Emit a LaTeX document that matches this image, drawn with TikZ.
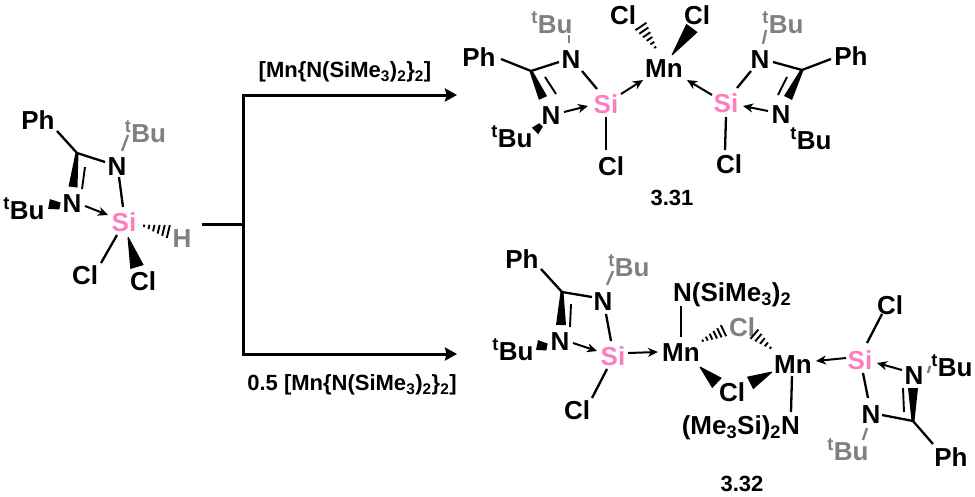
\documentclass[tikz,border=0pt]{standalone}
\usepackage{fontspec}
\setmainfont{Liberation Sans}
\usetikzlibrary{arrows.meta,calc}
\definecolor{sipink}{HTML}{FF7DBE}
\definecolor{tbugray}{HTML}{808080}
\tikzset{
  atom/.style={inner sep=0pt,text height=18pt,text depth=0pt,font=\fontsize{26}{26}\selectfont\bfseries},
  siatom/.style={atom,text=sipink},
  grayatom/.style={atom,text=tbugray},
  cond/.style={inner sep=0pt,text height=15pt,text depth=0pt,font=\fontsize{22}{22}\selectfont\bfseries},
  cmpd/.style={inner sep=0pt,text height=16pt,text depth=0pt,font=\fontsize{22}{22}\selectfont\bfseries},
  bd/.style={line width=2.3pt},
  thin bd/.style={line width=1.9pt},
  gbd/.style={line width=2.3pt,draw=tbugray},
  dat/.style={line width=2pt,-{Stealth[length=10pt,width=9pt,inset=3pt]}},
  rxn/.style={line width=3pt,line join=miter},
  rxnarrow/.style={rxn,-{Stealth[length=12pt,width=13pt,inset=1.5pt]}},
  hashln/.style={line width=1.9pt},
}
\newcommand\wedgebond[4]{\fill ($(#1)!#4pt!90:(#2)$) -- ($(#2)!#3pt!-90:(#1)$) -- ($(#2)!#3pt!90:(#1)$) -- ($(#1)!#4pt!-90:(#2)$) -- cycle;}
\newcommand\hashbond[4]{\foreach \i in {1,...,#4}{
  \pgfmathsetmacro\tt{(\i-0.35)/#4}
  \pgfmathsetmacro\ww{#3*\tt+0.5}
  \coordinate (hp) at ($(#1)!\tt!(#2)$);
  \draw[hashln] ($(hp)!\ww pt!90:(#2)$) -- ($(hp)!\ww pt!-90:(#2)$);
}}
\newcommand\tBu{\textsuperscript{t}Bu}
\begin{document}
\begin{tikzpicture}[x=1pt,y=-1pt]
\useasboundingbox (0,0) rectangle (975,496);
% --- starting material
\node[atom] (Ph1) at (38,120) {Ph};
\coordinate (C1) at (77,153);
\node[atom] (N1a) at (117,166) {N};
\node[atom] (N1b) at (72,203) {N};
\node[siatom] (Si1) at (124,222) {Si};
\node[grayatom] (H1) at (182,238) {H};
\node[atom] (Cl1a) at (85,275) {Cl};
\node[atom] (Cl1b) at (143,281) {Cl};
\node[grayatom] (Bu1a) at (145.5,133) {\tBu};
\node[atom] (Bu1b) at (24,210) {\tBu};
\draw[bd] ([shift={(19,11)}]Ph1.center) -- (C1);
\draw[bd] (C1) -- ([shift={(-12,-4)}]N1a.center);
\draw[bd] ([shift={(2,11)}]N1a.center) -- ([shift={(-1,-15)}]Si1.center);
\draw[gbd] ([shift={(-17.5,2)}]Bu1a.center) -- ([shift={(5,-15)}]N1a.center);
\draw[dat] ([shift={(13,3)}]N1b.center) -- ([shift={(-16,-7)}]Si1.center);
\draw[bd] ([shift={(-7,13)}]Si1.center) -- ([shift={(16,-12)}]Cl1a.center);
\draw[thin bd] ([shift={(8,14)}]C1) -- ([shift={(10,-14)}]N1b.center);
\wedgebond{77,153}{73,187}{4.5}{1.5}
\wedgebond{60,206}{49,204}{5}{3.5}
\wedgebond{128,237}{137,267}{7}{0.5}
\hashbond{141,225}{170,232}{6.5}{6}
% --- reaction scheme
\coordinate (in) at (202,224);
\coordinate (jn) at (243,224);
\coordinate (tc) at (243,95);
\coordinate (te) at (457,95);
\coordinate (bc) at (243,354);
\coordinate (be) at (457,354);
\draw[rxn] (in) -- (jn);
\draw[rxnarrow] (jn) -- (tc) -- (te);
\draw[rxnarrow] (jn) -- (bc) -- (be);
\node[cond] (L1) at (345,70) {[Mn\{N(SiMe\textsubscript{3})\textsubscript{2}\}\textsubscript{2}]};
\node[cond] (L2) at (352,383) {0.5 [Mn\{N(SiMe\textsubscript{3})\textsubscript{2}\}\textsubscript{2}]};
% --- 3.31
\node[atom] (Ph2) at (479,57) {Ph};
\coordinate (C2) at (531,71);
\node[atom] (N2a) at (571,59) {N};
\node[atom] (N2b) at (551,115) {N};
\node[siatom] (Si2) at (606,104) {Si};
\node[atom] (Cl2a) at (611,166) {Cl};
\node[grayatom] (Bu2a) at (552,24) {\tBu};
\node[atom] (Bu2b) at (512,138) {\tBu};
\node[atom] (Mn2) at (664,68) {Mn};
\node[atom] (Cl2b) at (623,15) {Cl};
\node[atom] (Cl2c) at (697,15) {Cl};
\node[siatom] (Si3) at (726,103) {Si};
\node[atom] (N3a) at (760,59) {N};
\node[atom] (N3b) at (781,114) {N};
\coordinate (C3) at (802,70);
\node[atom] (Ph3) at (851,56) {Ph};
\node[atom] (Cl3) at (729,164) {Cl};
\node[grayatom] (Bu3a) at (783,24) {\tBu};
\node[atom] (Bu3b) at (811,140) {\tBu};
\node[cmpd] (n331) at (672,197) {3.31};
\draw[bd] ([shift={(22,2)}]Ph2.center) -- (C2);
\draw[bd] (C2) -- ([shift={(-12,3)}]N2a.center);
\draw[gbd] ([shift={(17,11)}]Bu2a.center) -- ([shift={(-2,-16)}]N2a.center);
\draw[bd] ([shift={(11,12)}]N2a.center) -- ([shift={(-9,-15)}]Si2.center);
\draw[thin bd] ([shift={(14,6)}]C2) -- ([shift={(5,-21)}]N2b.center);
\draw[dat] ([shift={(13,-3)}]N2b.center) -- ([shift={(-18,2)}]Si2.center);
\draw[bd] ([shift={(0,13)}]Si2.center) -- ([shift={(-5,-16)}]Cl2a.center);
\draw[dat] ([shift={(15,-10)}]Si2.center) -- ([shift={(-21,12)}]Mn2.center);
\draw[dat] ([shift={(-14,-8)}]Si3.center) -- ([shift={(23,12)}]Mn2.center);
\draw[bd] ([shift={(-9,12)}]N3a.center) -- ([shift={(11,-15)}]Si3.center);
\draw[gbd] ([shift={(-17,6)}]Bu3a.center) -- ([shift={(3,-15)}]N3a.center);
\draw[bd] ([shift={(13,3)}]N3a.center) -- (C3);
\draw[bd] (C3) -- ([shift={(-20,3)}]Ph3.center);
\draw[thin bd] ([shift={(-15,7)}]C3) -- ([shift={(-3,-19)}]N3b.center);
\draw[dat] ([shift={(-13,-3)}]N3b.center) -- ([shift={(17,3)}]Si3.center);
\draw[bd] ([shift={(0,14)}]Si3.center) -- ([shift={(-4,-14)}]Cl3.center);
\wedgebond{531,71}{543,98}{4.5}{1.5}
\wedgebond{802,70}{788,98}{4.5}{1.5}
\wedgebond{541,125}{535,131}{4.5}{2.5}
\hashbond{657,50}{640,25}{6.5}{6}
\wedgebond{672,55}{692,28}{7}{0.5}
% --- 3.32
\node[atom] (Ph4) at (522,259) {Ph};
\coordinate (C4) at (562,292);
\node[atom] (N4a) at (603,301) {N};
\node[atom] (N4b) at (560,341) {N};
\node[siatom] (Si4) at (613,356) {Si};
\node[atom] (Cl4) at (577,410) {Cl};
\node[grayatom] (Bu4a) at (629,267) {\tBu};
\node[atom] (Bu4b) at (513,351) {\tBu};
\node[atom] (Mn4) at (681,352) {Mn};
\node[atom,anchor=west] (Nx) at (673,292) {N(SiMe\textsubscript{3})\textsubscript{2}};
\node[grayatom] (Clg) at (742,327) {Cl};
\node[atom] (Clk) at (732,392) {Cl};
\node[atom] (Mn5) at (793,364) {Mn};
\node[siatom] (Si5) at (860,360) {Si};
\node[atom] (Cl5) at (890,305) {Cl};
\node[atom] (N5a) at (914,375) {N};
\node[atom] (N5b) at (871,414) {N};
\coordinate (C5) at (913,421);
\node[atom] (Ph5) at (951,457) {Ph};
\node[atom] (Bu5a) at (952,367) {\tBu};
\node[grayatom] (Bu5b) at (848,451) {\tBu};
\node[atom,anchor=east] (Ny) at (800,425) {(Me\textsubscript{3}Si)\textsubscript{2}N};
\node[cmpd] (n332) at (742,483) {3.32};
\draw[bd] ([shift={(19,10)}]Ph4.center) -- (C4);
\draw[bd] (C4) -- ([shift={(-11,-4)}]N4a.center);
\draw[gbd] ([shift={(-16,4)}]Bu4a.center) -- ([shift={(4,-16)}]N4a.center);
\draw[bd] ([shift={(3,13)}]N4a.center) -- ([shift={(-2,-15)}]Si4.center);
\draw[thin bd] ([shift={(9,12)}]C4) -- ([shift={(10,-14)}]N4b.center);
\draw[dat] ([shift={(13,2)}]N4b.center) -- ([shift={(-16,-5)}]Si4.center);
\draw[bd] ([shift={(-6,13)}]Si4.center) -- ([shift={(15,-12)}]Cl4.center);
\draw[dat] ([shift={(15,-3)}]Si4.center) -- ([shift={(-23,0)}]Mn4.center);
\draw[bd] ([shift={(8,14)}]Nx.west) -- ([shift={(0,-15)}]Mn4.center);
\draw[bd] ([shift={(-1,12)}]Mn5.center) -- ([shift={(-9,-13)}]Ny.east);
\draw[dat] ([shift={(-14,-2)}]Si5.center) -- ([shift={(23,-3)}]Mn5.center);
\draw[bd] ([shift={(7,-17)}]Si5.center) -- ([shift={(-8,9)}]Cl5.center);
\draw[bd] ([shift={(3,13)}]Si5.center) -- ([shift={(-3,-16)}]N5b.center);
\draw[dat] ([shift={(-12,-5)}]N5a.center) -- ([shift={(17,3)}]Si5.center);
\draw[gbd] ([shift={(-22,-1)}]Bu5a.center) -- ([shift={(14,-2)}]N5a.center);
\draw[bd] ([shift={(11,1)}]N5b.center) -- (C5);
\draw[gbd] ([shift={(-4,14)}]N5b.center) -- ([shift={(15,-11)}]Bu5b.center);
\draw[thin bd] ([shift={(-9,-9)}]C5) -- ([shift={(-11,13)}]N5a.center);
\draw[bd] (C5) -- ([shift={(-18,-13)}]Ph5.center);
\wedgebond{562,292}{561,325}{5}{1.5}
\wedgebond{913,421}{913,388}{5}{1.5}
\wedgebond{547,347}{537,345}{5}{3.5}
\hashbond{700,342}{725,330}{6}{6}
\wedgebond{700,367}{717,383}{7}{0.5}
\hashbond{773,350}{753,333}{6}{5}
\wedgebond{772,372}{750,383}{7}{0.5}
\end{tikzpicture}
\end{document}
